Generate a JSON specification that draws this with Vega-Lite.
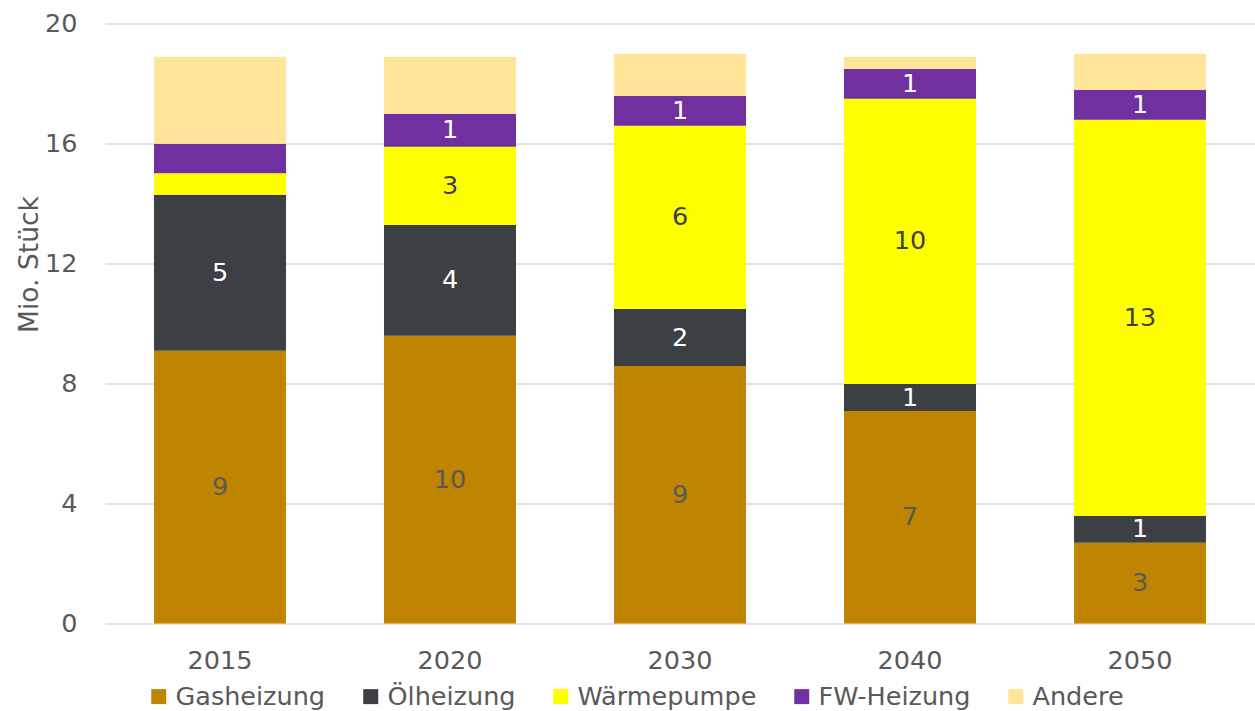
{
  "$schema": "https://vega.github.io/schema/vega-lite/v6.json",
  "width": 1150,
  "height": 600,
  "autosize": {"type": "none"},
  "padding": {"left": 105, "top": 23.5, "right": 0, "bottom": 87.5},
  "background": "white",
  "config": {
    "view": {"stroke": null},
    "font": "DejaVu Sans",
    "axis": {"labelFont": "DejaVu Sans", "titleFont": "DejaVu Sans"},
    "legend": {"labelFont": "DejaVu Sans"}
  },
  "datasets": {
    "counts": [
      {"year": "2015", "series": "Gasheizung", "value": 9.09, "label": "9"},
      {"year": "2015", "series": "Ölheizung", "value": 5.2, "label": "5"},
      {"year": "2015", "series": "Wärmepumpe", "value": 0.72, "label": ""},
      {"year": "2015", "series": "FW-Heizung", "value": 0.98, "label": ""},
      {"year": "2015", "series": "Andere", "value": 2.9, "label": ""},
      {"year": "2020", "series": "Gasheizung", "value": 9.59, "label": "10"},
      {"year": "2020", "series": "Ölheizung", "value": 3.69, "label": "4"},
      {"year": "2020", "series": "Wärmepumpe", "value": 2.61, "label": "3"},
      {"year": "2020", "series": "FW-Heizung", "value": 1.1, "label": "1"},
      {"year": "2020", "series": "Andere", "value": 1.9, "label": ""},
      {"year": "2030", "series": "Gasheizung", "value": 8.58, "label": "9"},
      {"year": "2030", "series": "Ölheizung", "value": 1.9, "label": "2"},
      {"year": "2030", "series": "Wärmepumpe", "value": 6.11, "label": "6"},
      {"year": "2030", "series": "FW-Heizung", "value": 1.0, "label": "1"},
      {"year": "2030", "series": "Andere", "value": 1.4, "label": ""},
      {"year": "2040", "series": "Gasheizung", "value": 7.08, "label": "7"},
      {"year": "2040", "series": "Ölheizung", "value": 0.9, "label": "1"},
      {"year": "2040", "series": "Wärmepumpe", "value": 9.51, "label": "10"},
      {"year": "2040", "series": "FW-Heizung", "value": 0.99, "label": "1"},
      {"year": "2040", "series": "Andere", "value": 0.41, "label": ""},
      {"year": "2050", "series": "Gasheizung", "value": 2.69, "label": "3"},
      {"year": "2050", "series": "Ölheizung", "value": 0.89, "label": "1"},
      {"year": "2050", "series": "Wärmepumpe", "value": 13.21, "label": "13"},
      {"year": "2050", "series": "FW-Heizung", "value": 0.99, "label": "1"},
      {"year": "2050", "series": "Andere", "value": 1.21, "label": ""}
    ],
    "seriesOrder": [
      {"series": "Gasheizung", "stackOrder": 1},
      {"series": "Ölheizung", "stackOrder": 2},
      {"series": "Wärmepumpe", "stackOrder": 3},
      {"series": "FW-Heizung", "stackOrder": 4},
      {"series": "Andere", "stackOrder": 5}
    ]
  },
  "data": {"name": "counts"},
  "transform": [
    {
      "lookup": "series",
      "from": {"data": {"name": "seriesOrder"}, "key": "series", "fields": ["stackOrder"]}
    }
  ],
  "encoding": {
    "x": {
      "field": "year",
      "type": "nominal",
      "title": null,
      "scale": {"paddingInner": 0.426, "paddingOuter": 0.213},
      "axis": {
        "labelAngle": 0,
        "labelFontSize": 25.5,
        "labelColor": "#595959",
        "labelPadding": 25,
        "domain": false,
        "ticks": false,
        "grid": false
      }
    },
    "order": {"field": "stackOrder", "type": "quantitative", "sort": "ascending"}
  },
  "layer": [
    {
      "mark": {"type": "bar"},
      "encoding": {
        "y": {
          "field": "value",
          "type": "quantitative",
          "stack": "zero",
          "title": "Mio. Stück",
          "scale": {"domain": [0, 20], "nice": false},
          "axis": {
            "values": [0, 4, 8, 12, 16, 20],
            "labelFontSize": 25.5,
            "labelColor": "#595959",
            "labelPadding": 28,
            "domain": false,
            "ticks": false,
            "gridColor": "#D9D9D9",
            "gridWidth": 1.3,
            "titleFontSize": 26.5,
            "titleFontWeight": "normal",
            "titleColor": "#595959",
            "titleAngle": 270,
            "titleAlign": "center",
            "titleBaseline": "alphabetic",
            "titleX": -68,
            "titleY": 240.5
          }
        },
        "color": {
          "field": "series",
          "type": "nominal",
          "sort": ["Gasheizung", "Ölheizung", "Wärmepumpe", "FW-Heizung", "Andere"],
          "scale": {
            "domain": ["Gasheizung", "Ölheizung", "Wärmepumpe", "FW-Heizung", "Andere"],
            "range": ["#BF8500", "#3C4044", "#FFFF00", "#7030A0", "#FFE599"]
          },
          "legend": {
            "title": null,
            "orient": "none",
            "direction": "horizontal",
            "columns": 5,
            "legendX": 41,
            "legendY": 660,
            "symbolType": "square",
            "symbolSize": 225,
            "symbolStrokeWidth": 0,
            "labelFontSize": 25.5,
            "labelColor": "#595959",
            "labelOffset": 4,
            "columnPadding": 32,
            "labelLimit": 400
          }
        }
      }
    },
    {
      "mark": {"type": "text", "fontSize": 25.5, "baseline": "middle", "align": "center"},
      "encoding": {
        "y": {"field": "value", "type": "quantitative", "stack": "zero", "bandPosition": 0.5},
        "text": {"field": "label", "type": "nominal"},
        "color": {
          "field": "series",
          "type": "nominal",
          "sort": ["Gasheizung", "Ölheizung", "Wärmepumpe", "FW-Heizung", "Andere"],
          "scale": {
            "domain": ["Gasheizung", "Ölheizung", "Wärmepumpe", "FW-Heizung", "Andere"],
            "range": ["#595959", "#FFFFFF", "#404040", "#FFFFFF", "#595959"]
          },
          "legend": null
        }
      }
    }
  ],
  "resolve": {"scale": {"color": "independent"}}
}
